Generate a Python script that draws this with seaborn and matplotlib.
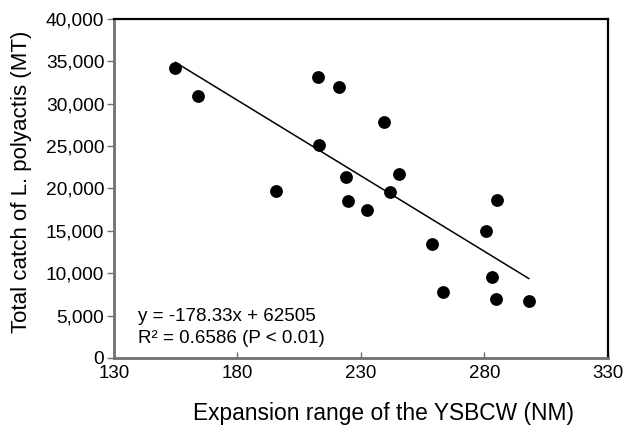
import matplotlib
matplotlib.use("Agg")
import matplotlib.pyplot as plt
import seaborn as sns
import numpy as np
import pandas as pd
from matplotlib.ticker import FuncFormatter

# Data
expansion_nm = [154.8, 164.1, 212.5, 221.1, 212.9, 223.8, 195.6, 224.7, 232.3,
                239.3, 245.4, 241.6, 285.1, 280.5, 258.6, 282.9, 263.1, 284.7, 298.0]
catch_mt = [34200, 30880, 33190, 31940, 25170, 21390, 19740, 18490, 17500,
            27880, 21750, 19590, 18680, 14950, 13410, 9560, 7830, 6960, 6730]
slope = -178.33
intercept = 62505
x_ticks = [130, 180, 230, 280, 330]
y_ticks = [0, 5000, 10000, 15000, 20000, 25000, 30000, 35000, 40000]
eq_text = "y = -178.33x + 62505"
r2_text = "R² = 0.6586 (P < 0.01)"
x_label = "Expansion range of the YSBCW (NM)"
y_label = "Total catch of L. polyactis (MT)"

sns.set_theme(style="white")
plt.rcParams['font.family'] = ['Liberation Sans', 'DejaVu Sans']

df = pd.DataFrame({"x": expansion_nm, "y": catch_mt})
fit_x = [min(expansion_nm), max(expansion_nm)]
fit_df = pd.DataFrame({"x": fit_x, "y": [slope * v + intercept for v in fit_x]})

fig = plt.figure(figsize=(6.27, 4.28), dpi=100)
ax = fig.add_axes([0.1818, 0.1636, 0.7879, 0.792])

sns.lineplot(data=fit_df, x="x", y="y", ax=ax, color="black", linewidth=1.1)
sns.scatterplot(data=df, x="x", y="y", ax=ax, color="black", s=85,
                edgecolor="black", linewidth=0, zorder=3)

ax.set_xlim(130, 330)
ax.set_ylim(0, 40000)
ax.set_xticks(x_ticks)
ax.set_yticks(y_ticks)
ax.yaxis.set_major_formatter(FuncFormatter(lambda v, p: f"{int(v):,}"))

ax.tick_params(axis='x', direction='in', length=4, width=1, color='#707070',
               labelsize=13.5, pad=5, bottom=True)
ax.tick_params(axis='y', direction='out', length=5, width=1, color='#707070',
               labelsize=13.8, pad=2, left=True)
for lab in ax.get_xticklabels() + ax.get_yticklabels():
    lab.set_color('black')

for side in ['left', 'bottom']:
    ax.spines[side].set_color('#707070')
    ax.spines[side].set_linewidth(2)
for side in ['top', 'right']:
    ax.spines[side].set_color('black')
    ax.spines[side].set_linewidth(1.6)

ax.set_xlabel(x_label, fontsize=16.4, color='black')
ax.set_ylabel(y_label, fontsize=16, color='black')
ax.xaxis.set_label_coords(0.545, -0.13)
ax.yaxis.set_label_coords(-0.166, 0.519)

ax.text(0.049, 0.121, eq_text, transform=ax.transAxes, fontsize=13.5,
        ha='left', va='center', color='black')
ax.text(0.049, 0.056, r2_text, transform=ax.transAxes, fontsize=13.5,
        ha='left', va='center', color='black')

fig.savefig("out.png", dpi=100)
